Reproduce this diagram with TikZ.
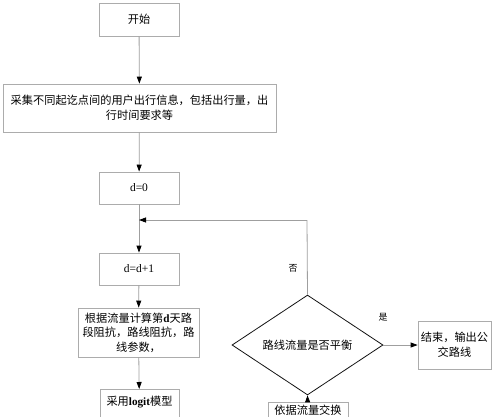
\documentclass[tikz,border=0pt]{standalone}
\usepackage{fontspec}
\setmainfont{Liberation Serif}
\newfontfamily\cjk{Noto Sans CJK SC}
\usetikzlibrary{arrows.meta,shapes.geometric}
\begin{document}
\begin{tikzpicture}[x=1pt,y=-1pt,
  box/.style={draw=gray!65,line width=0.8pt,fill=white,inner sep=2pt,align=center,
    font=\fontsize{11.2}{15}\selectfont\cjk},
  conn/.style={draw=gray!75,line width=0.8pt,-{Triangle[length=7pt,width=5pt,color=black,fill=black]}},
  plain/.style={draw=gray!75,line width=0.8pt},
  lbl/.style={font=\fontsize{9}{11}\selectfont\cjk,inner sep=0pt}]
\useasboundingbox (0,0) rectangle (500,416);
\clip (0,0) rectangle (500,416);
\fill[white] (0,0) rectangle (500,416);

\node[box,minimum width=80,minimum height=33] (start) at (139,19.5) {开始};
\node[box,minimum width=273,minimum height=48] (collect) at (139.5,108)
  {采集不同起讫点间的用户出行信息，包括出行量，出\\行时间要求等};
\node[box,minimum width=80,minimum height=32,font=\fontsize{11.5}{13}\selectfont] (d0) at (139,188) {d=0};
\node[box,minimum width=80,minimum height=32,font=\fontsize{11.5}{13}\selectfont] (dd1) at (139,269) {d=d+1};
\node[box,minimum width=121,minimum height=49,font=\fontsize{11.2}{14.5}\selectfont\cjk] (compute) at (138.5,332.5)
  {根据流量计算第{\rmfamily\bfseries d}天路\\段阻抗，路线阻抗，路\\线参数，};
\node[draw=gray!15!black,line width=0.8pt,diamond,minimum width=151,minimum height=72,inner sep=0pt,
  font=\fontsize{11.2}{13}\selectfont\cjk] (dec) at (307.5,345) {路线流量是否平衡};
\node[box,minimum width=73,minimum height=48] (end) at (454.5,345) {结束，输出公\\交路线};
\node[box,anchor=north,minimum width=79,text height=12pt,text depth=30pt,inner ysep=4pt] (logit) at (139.5,389)
  {采用{\rmfamily\bfseries logit}模型};
\node[box,anchor=north,minimum width=80,text height=8pt,text depth=30pt,inner ysep=4pt] (exch) at (308,402)
  {依据流量交换};

\coordinate (j) at (139,220);
\coordinate (k) at (307,220);

\draw[conn] (start) -- (collect);
\draw[conn] (collect) -- (d0);
\draw[conn] (d0) -- (dd1);
\draw[conn] (dd1) -- (compute);
\draw[conn] (compute) -- (logit);
\draw[conn] (exch) -- (dec.south);
\draw[conn] (dec.east) -- (end);
\draw[plain] (dec.north) -- (k);
\draw[conn] (k) -- (j);

\node[lbl] (no) at (293,268) {否};
\node[lbl] (yes) at (383,317) {是};
\end{tikzpicture}
\end{document}
